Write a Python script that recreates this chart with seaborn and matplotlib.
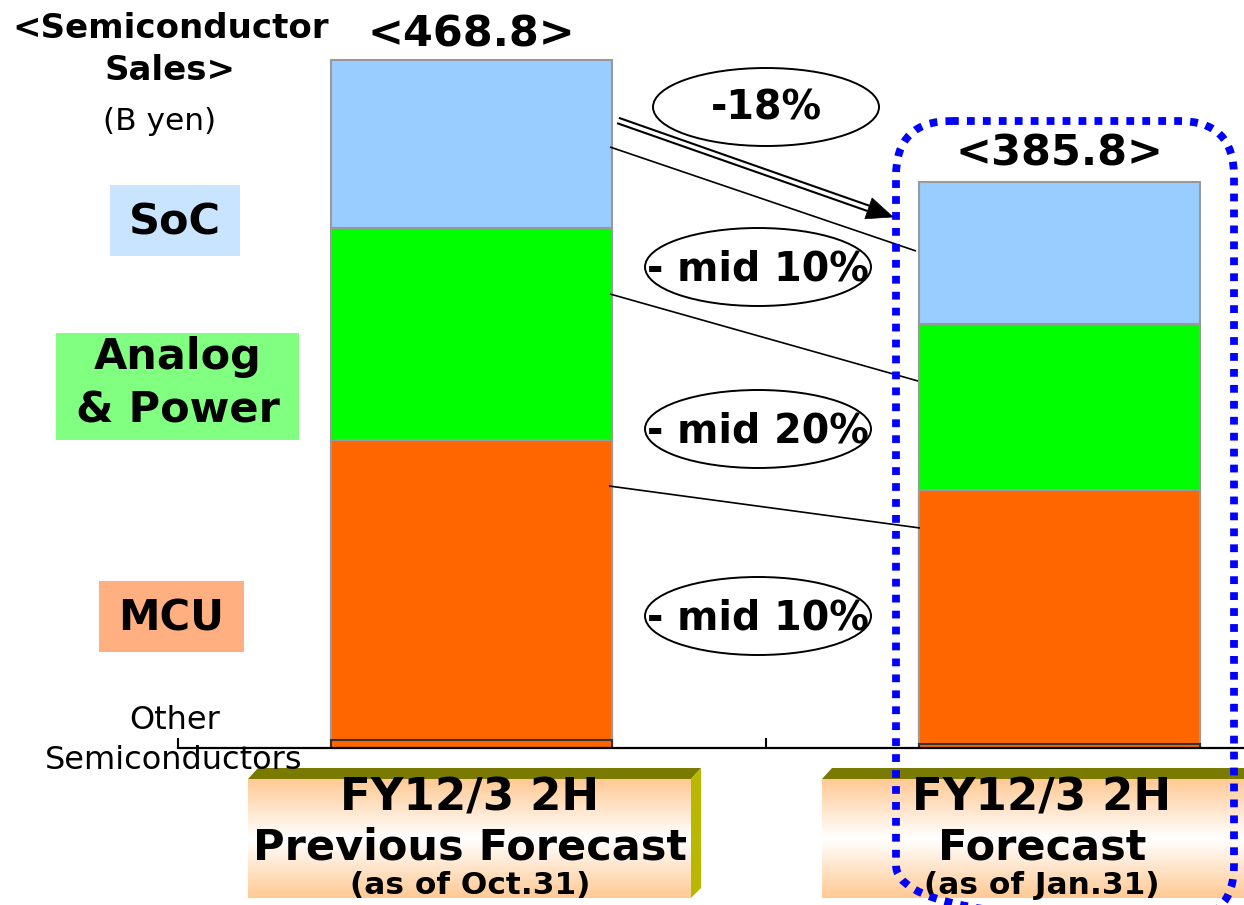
import numpy as np
import pandas as pd
import matplotlib
matplotlib.use("Agg")
import matplotlib.pyplot as plt
from matplotlib.patches import Ellipse, FancyBboxPatch, Polygon, Rectangle
import seaborn as sns

# ---- data (B yen) ----
periods = ["FY12/3 2H Previous Forecast", "FY12/3 2H Forecast"]
other_semis = [5.4, 2.7]
mcu = [204.4, 173.0]
analog_power = [144.4, 113.1]
soc = [114.6, 97.0]
totals = [468.8, 385.8]
change_labels = ["-18%", "- mid 10%", "- mid 20%", "- mid 10%"]
period_lines = [["FY12/3 2H", "Previous Forecast", "(as of Oct.31)"],
                ["FY12/3 2H", "Forecast", "(as of Jan.31)"]]

C_SOC, C_ANA, C_MCU = "#99CCFF", "#00FF00", "#FF6600"
EDGE = "#999999"

sns.set_theme(style="white")
plt.rcParams["font.family"] = ["DejaVu Sans"]
plt.rcParams["text.color"] = "black"

W, H = 1244, 905
fig = plt.figure(figsize=(W / 100, H / 100), dpi=100)
fig.patch.set_facecolor("white")

# bar axes: baseline near the bottom, extends past the right edge
ax = fig.add_axes([178 / W, 157 / H, 1175 / W, 748 / H])
ax.set_facecolor("none")

df = pd.DataFrame({
    "period": periods,
    "other": other_semis,
    "mcu": mcu,
    "analog": analog_power,
    "soc": soc,
})
df["c_other"] = df["other"]
df["c_mcu"] = df["c_other"] + df["mcu"]
df["c_analog"] = df["c_mcu"] + df["analog"]
df["c_soc"] = df["c_analog"] + df["soc"]

# stacked bars drawn as overlapping cumulative bars, tallest first
layers = [("c_soc", C_SOC, EDGE), ("c_analog", C_ANA, EDGE),
          ("c_mcu", C_MCU, EDGE), ("c_other", C_MCU, "#333333")]
for col, colr, edge in layers:
    sns.barplot(data=df, x="period", y=col, color=colr, saturation=1,
                width=0.478, edgecolor=edge, linewidth=1.5, ax=ax)

ax.set_xlim(-0.5, 1.5)
ax.set_ylim(0, 509.5)
ax.set_xlabel("")
ax.set_ylabel("")
for s in ["left", "right", "top"]:
    ax.spines[s].set_visible(False)
ax.spines["bottom"].set_color("black")
ax.spines["bottom"].set_linewidth(1.6)
ax.set_yticks([])
ax.set_xticks([-0.5, 0.5, 1.5])
ax.set_xticklabels([])
ax.tick_params(axis="x", direction="in", length=7.5, width=1.5, color="black",
               bottom=True)

# totals above each bar
for i, t in enumerate(df["c_soc"]):
    ax.annotate(f"<{totals[i]:.1f}>", (i, t), xytext=(0, 3 + 2 * i),
                textcoords="offset points", ha="center", va="bottom",
                fontsize=31, fontweight="bold", color="black")

# overlay in pixel coordinates for the annotations
ov = fig.add_axes([0, 0, 1, 1], zorder=5)
ov.set_xlim(0, W)
ov.set_ylim(H, 0)
ov.axis("off")
ov.patch.set_alpha(0)

# left side titles and legend boxes
ov.text(171, 29, "<Semiconductor", ha="center", va="center", fontsize=24.5, fontweight="bold")
ov.text(170, 71, "Sales>", ha="center", va="center", fontsize=24.5, fontweight="bold")
ov.text(160, 122, "(B yen)", ha="center", va="center", fontsize=22.5)

ov.add_patch(Rectangle((110, 185), 130, 71, facecolor="#C9E4FF", edgecolor="none"))
ov.text(175, 222, "SoC", ha="center", va="center", fontsize=31, fontweight="bold")
ov.add_patch(Rectangle((56, 333), 243, 107, facecolor="#80FF80", edgecolor="none"))
ov.text(178, 357, "Analog", ha="center", va="center", fontsize=31, fontweight="bold")
ov.text(178, 410, "& Power", ha="center", va="center", fontsize=31, fontweight="bold")
ov.add_patch(Rectangle((99, 581), 145, 71, facecolor="#FFAF80", edgecolor="none"))
ov.text(171, 618, "MCU", ha="center", va="center", fontsize=30, fontweight="bold")

ov.text(175, 720, "Other", ha="center", va="center", fontsize=23)
ov.text(174, 760, "Semiconductors", ha="center", va="center", fontsize=23)

# connector lines between segments
for (x0, y0, x1, y1) in [(610, 147, 916, 251), (610, 294, 918, 381), (609, 486, 920, 528)]:
    ov.plot([x0, x1], [y0, y1], color="black", lw=1.2, solid_capstyle="butt")

# double-line arrow for the total change
p0 = np.array([618.0, 120.5])
tip = np.array([893.0, 217.0])
d = (tip - p0) / np.linalg.norm(tip - p0)
n = np.array([-d[1], d[0]])
base = tip - 26 * d
for off in (-2.8, 2.8):
    a = p0 + off * n
    b = base + off * n
    ov.plot([a[0], b[0]], [a[1], b[1]], color="black", lw=1.5, solid_capstyle="butt")
ov.add_patch(Polygon([tip, base + 11 * n, base - 11 * n], closed=True,
                     facecolor="black", edgecolor="black", lw=0.5))

# change ellipses
ell = [(766, 107), (758, 267), (758, 429), (758, 616)]
for (cx, cy), lab in zip(ell, change_labels):
    ov.add_patch(Ellipse((cx, cy), 226, 78, facecolor="none", edgecolor="black", lw=1.4))
    ov.text(cx, cy + 2, lab, ha="center", va="center",
            fontsize=28.5, fontweight="bold")

# category label boxes with a bevelled olive edge
grad = np.concatenate([np.linspace(0, 1, 50), np.linspace(1, 0, 50)])
peach = np.array([1.0, 0.79, 0.58])
white = np.array([1.0, 1.0, 1.0])
img = (peach[None, :] * (1 - grad[:, None]) + white[None, :] * grad[:, None])
img = np.repeat(img[:, None, :], 2, axis=1)

boxes = [(248, 691), (822, 1265)]
centers = [470, 1042]
for (x0, x1), cx, lines in zip(boxes, centers, period_lines):
    ov.imshow(img, extent=(x0, x1, 898, 779), aspect="auto", interpolation="bilinear", zorder=1)
    ov.add_patch(Polygon([(x0, 779), (x0 + 10, 768), (x1 + 10, 768), (x1, 779)],
                         closed=True, facecolor="#7A7A00", edgecolor="none", zorder=2))
    ov.add_patch(Polygon([(x1, 779), (x1 + 10, 768), (x1 + 10, 888), (x1, 898)],
                         closed=True, facecolor="#B8B800", edgecolor="none", zorder=2))
    ov.text(cx, 798, lines[0], ha="center", va="center", fontsize=32.5, fontweight="bold", zorder=3)
    ov.text(cx, 847, lines[1], ha="center", va="center", fontsize=31, fontweight="bold", zorder=3)
    ov.text(cx, 885, lines[2], ha="center", va="center", fontsize=22.5, fontweight="bold", zorder=3)

ov.set_xlim(0, W)
ov.set_ylim(H, 0)

# dotted highlight frame around the current forecast
ov.add_patch(FancyBboxPatch((896, 121), 1234 - 896, 920 - 121,
                            boxstyle="round,pad=0,rounding_size=55",
                            facecolor="none", edgecolor="#0000FF", lw=5.6,
                            linestyle=(0, (1, 1.05)), zorder=6))

fig.savefig("out.png", dpi=100, facecolor="white")
